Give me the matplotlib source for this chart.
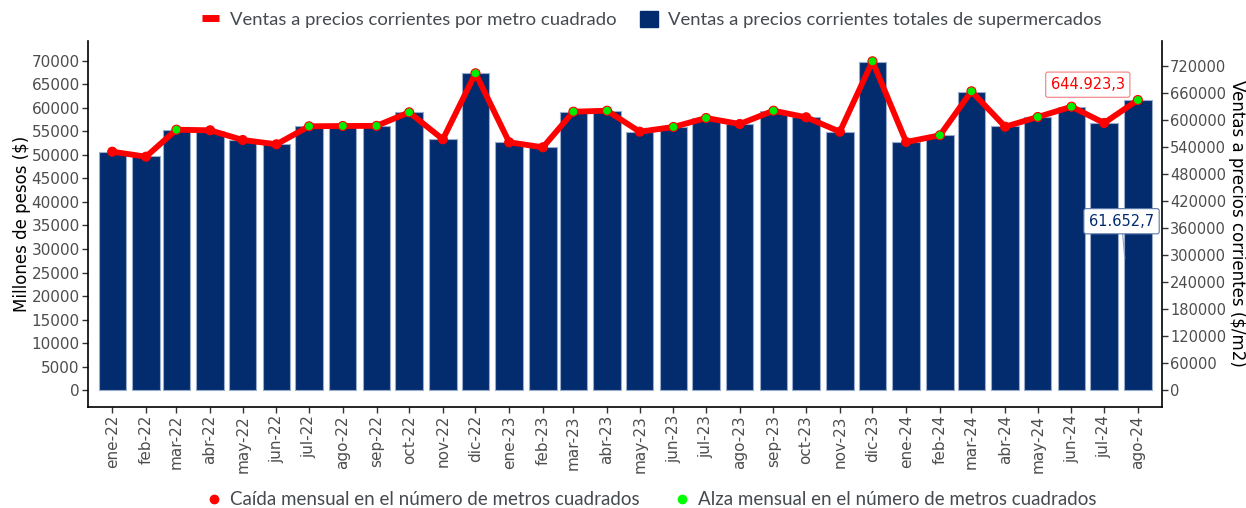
import matplotlib
matplotlib.use('Agg')
import matplotlib.pyplot as plt
import matplotlib.dates as mdates
from matplotlib.lines import Line2D
from matplotlib.patches import Patch
import datetime as dt

# ---------------- data ----------------
months = ['ene-22', 'feb-22', 'mar-22', 'abr-22', 'may-22', 'jun-22', 'jul-22', 'ago-22',
          'sep-22', 'oct-22', 'nov-22', 'dic-22', 'ene-23', 'feb-23', 'mar-23', 'abr-23',
          'may-23', 'jun-23', 'jul-23', 'ago-23', 'sep-23', 'oct-23', 'nov-23', 'dic-23',
          'ene-24', 'feb-24', 'mar-24', 'abr-24', 'may-24', 'jun-24', 'jul-24', 'ago-24']

# Ventas totales (millones de pesos)
ventas_totales = [50540, 49690, 55340, 55150, 53150, 52300, 56130, 56150,
                  56200, 59040, 53370, 67320, 52670, 51600, 59100, 59310,
                  54850, 55910, 57830, 56550, 59310, 57970, 54850, 69780,
                  52730, 54150, 63410, 56060, 58040, 60160, 56760, 61652.7]

# Ventas por metro cuadrado ($/m2)
ventas_m2 = [530100, 519000, 578980, 577650, 556100, 546550, 586540, 587200,
             587500, 617640, 557650, 704290, 550990, 539880, 618970, 621200,
             574540, 584980, 604980, 591650, 621200, 606530, 574540, 730950,
             551660, 566540, 664300, 585650, 607200, 630080, 593870, 644923.3]

# 1 = alza mensual en el número de m2, 0 = caída
alza_m2 = [0, 0, 1, 0, 0, 0, 1, 1, 1, 1, 0, 1,
           0, 0, 1, 1, 0, 1, 1, 0, 1, 0, 0, 1,
           0, 1, 1, 0, 1, 1, 0, 1]

left_ticks = list(range(0, 70001, 5000))
right_ticks = list(range(0, 720001, 60000))

# ---------------- style ----------------
NAVY = '#032C6F'
RED = '#FF0000'
GREEN = '#00EE00'
TICKC = '#4d4d4d'
LEGC = '#454a50'
plt.rcParams['font.family'] = ['DejaVu Sans']

dates = [dt.date(2022 + i // 12, i % 12 + 1, 1) for i in range(len(months))]
x = mdates.date2num(dates)

fig = plt.figure(figsize=(12.46, 5.08), dpi=100)
ax = fig.add_axes([0.0706, 0.1994, 0.9324 - 0.0706, 0.9199 - 0.1994])
ax2 = ax.twinx()

ax.bar(x, ventas_totales, width=25.2, color=NAVY, edgecolor='#9aaccc', linewidth=0.8, zorder=2)

ax2.plot(x, ventas_m2, color=RED, lw=4.2, zorder=3, solid_joinstyle='round')
mcol = [GREEN if a else RED for a in alza_m2]
ax2.scatter(x, ventas_m2, s=42, c=mcol, edgecolors=RED, linewidths=0.8, zorder=4)

ax.set_xlim(x[0] - 22.3, x[-1] + 22.0)
ax.set_ylim(-3483, 74241)
ax2.set_ylim(-36436, 776716)

ax.set_xticks(x)
ax.set_xticklabels(months, rotation=90, fontsize=11, color=TICKC)
ax.set_yticks(left_ticks)
ax.set_yticklabels([str(v) for v in left_ticks], fontsize=11, color=TICKC)
ax2.set_yticks(right_ticks)
ax2.set_yticklabels([str(v) for v in right_ticks], fontsize=10.5, color=TICKC)

for a in (ax, ax2):
    a.spines['top'].set_visible(False)
    for s in ('left', 'right', 'bottom'):
        a.spines[s].set_color('black')
        a.spines[s].set_linewidth(1.2)
    a.tick_params(axis='both', length=4, width=1, color='#333333', pad=2)
ax.spines['right'].set_visible(False)
ax2.spines['left'].set_visible(False)
ax2.spines['bottom'].set_visible(False)

ax.set_ylabel('Millones de pesos ($)', fontsize=12, color='black', labelpad=0)
ax2.set_ylabel('Ventas a precios corrientes ($/m2)', fontsize=12, color='black',
               rotation=-90, labelpad=14)

# annotations
ax2.annotate('644.923,3', xy=(x[-1], ventas_m2[-1]), xytext=(x[-1] - 46, 679000),
             fontsize=10.5, color=RED, ha='center', va='center',
             bbox=dict(boxstyle='round,pad=0.35,rounding_size=0.15', fc='white', ec='#f08080', lw=0.8),
             zorder=6)
ax.annotate('61.652,7', xy=(x[-1] - 12, 28000), xytext=(x[-1] - 15, 35900),
            fontsize=10.5, color=NAVY, ha='center', va='center',
            bbox=dict(boxstyle='round,pad=0.35,rounding_size=0.15', fc='white', ec='#5a78a8', lw=0.8),
            arrowprops=dict(arrowstyle='-', color='#8ea3c9', lw=0.8, shrinkA=0, shrinkB=0),
            zorder=6)

# legends
top_handles = [Line2D([0], [0], color=RED, lw=5, solid_capstyle='butt'),
               Patch(facecolor=NAVY, edgecolor=NAVY)]
top_labels = ['Ventas a precios corrientes por metro cuadrado',
              'Ventas a precios corrientes totales de supermercados']
leg1 = fig.legend(top_handles, top_labels, loc='center', bbox_to_anchor=(0.523, 0.961),
                  ncol=2, frameon=False, handlelength=0.95, handleheight=0.95,
                  handletextpad=0.55, columnspacing=1.3, prop={'family': 'Lato', 'size': 13.3})
for t in leg1.get_texts():
    t.set_color(LEGC)

bot_handles = [Line2D([0], [0], marker='o', ls='none', color=RED, markersize=6),
               Line2D([0], [0], marker='o', ls='none', color='#00FF00', markersize=6)]
bot_labels = ['Caída mensual en el número de metros cuadrados',
              'Alza mensual en el número de metros cuadrados']
leg2 = fig.legend(bot_handles, bot_labels, loc='center', bbox_to_anchor=(0.523, 0.016),
                  ncol=2, frameon=False, handlelength=0.7, handletextpad=0.5,
                  columnspacing=1.9, prop={'family': 'Lato', 'size': 13.5})
for t in leg2.get_texts():
    t.set_color(LEGC)

fig.savefig('out.png', dpi=100)
